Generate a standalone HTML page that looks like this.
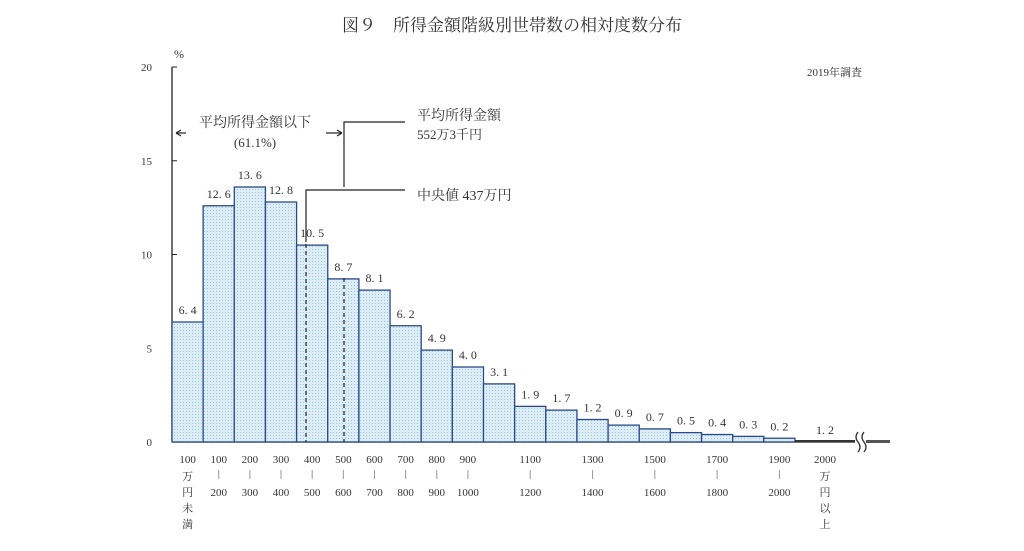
<!DOCTYPE html>
<html><head><meta charset="utf-8"><style>
body{margin:0;background:#fff;}
svg text{font-family:"Liberation Serif","Noto Serif CJK SC",serif;fill:#333;}
</style></head><body>
<svg id="chart" width="1024" height="546" viewBox="0 0 1024 546" xmlns="http://www.w3.org/2000/svg">
<defs>
<pattern id="dots" width="3" height="3" patternUnits="userSpaceOnUse"><rect width="3" height="3" fill="#dcedf6"/><rect width="1" height="1" fill="#9fc4da"/></pattern>
</defs>
<text x="512" y="31" font-size="17" text-anchor="middle">図９　所得金額階級別世帯数の相対度数分布</text>
<text x="862" y="76" font-size="11" text-anchor="end">2019年調査</text>
<text x="179" y="58" font-size="12" text-anchor="middle">%</text>
<g id="yaxis"></g>
<g id="bars"></g>
<g id="xlabels"></g>
<g stroke="#222" stroke-width="1.2" fill="none">
<polyline points="344,187 344,122 405,122"/>
<line x1="344" y1="278" x2="344" y2="442" stroke-dasharray="4,3"/>
<polyline points="306,242 306,190 405,190"/>
<line x1="306" y1="244" x2="306" y2="442" stroke-dasharray="4,3"/>
<line x1="176" y1="133" x2="186" y2="133"/><path d="M176,133 l5,-3 M176,133 l5,3"/>
<line x1="326" y1="133" x2="341" y2="133"/><path d="M342,133 l-5,-3 M342,133 l-5,3"/>
</g>
<text x="255" y="127" font-size="14" text-anchor="middle">平均所得金額以下</text>
<text x="255" y="147" font-size="13" text-anchor="middle">(61.1%)</text>
<text x="417" y="120" font-size="14">平均所得金額</text>
<text x="417" y="139" font-size="13">552万3千円</text>
<text x="417" y="200" font-size="14">中央値 437万円</text>
</svg>
<script>
const categories=["100万円未満","100-200","200-300","300-400","400-500","500-600","600-700","700-800","800-900","900-1000","1000-1100","1100-1200","1200-1300","1300-1400","1400-1500","1500-1600","1600-1700","1700-1800","1800-1900","1900-2000","2000万円以上"];
const values=[6.4,12.6,13.6,12.8,10.5,8.7,8.1,6.2,4.9,4.0,3.1,1.9,1.7,1.2,0.9,0.7,0.5,0.4,0.3,0.2,1.2];
const valueLabels=["6.4","12.6","13.6","12.8","10.5","8.7","8.1","6.2","4.9","4.0","3.1","1.9","1.7","1.2","0.9","0.7","0.5","0.4","0.3","0.2","1.2"];
const yTicks=[0,5,10,15,20];
const xTop=["100","100","200","300","400","500","600","700","800","900","","1100","","1300","","1500","","1700","","1900","2000"];
const xBottom=["","200","300","400","500","600","700","800","900","1000","","1200","","1400","","1600","","1800","","2000",""];
const NS="http://www.w3.org/2000/svg";
const X0=172,BW=31.15,Y0=442,PX=18.75;
const y=v=>Y0-v*PX, x=i=>X0+i*BW;
function mk(t,a,p){const e=document.createElementNS(NS,t);for(const k in a)e.setAttribute(k,a[k]);p.appendChild(e);return e;}
const ya=document.getElementById('yaxis');
mk('line',{x1:X0,y1:Y0,x2:X0,y2:y(20),stroke:'#222','stroke-width':1.3},ya);
mk('line',{x1:X0,y1:Y0,x2:855,y2:Y0,stroke:'#222','stroke-width':1.3},ya);
yTicks.forEach(v=>{
 const l=mk('line',{x1:X0,y1:y(v),x2:X0+5,y2:y(v),stroke:'#222'},ya);
 
 
 const t=mk('text',{x:X0-20,y:y(v)+4,'font-size':11,'text-anchor':'end'},ya);
 t.textContent=v;
 
 
});
const bg=document.getElementById('bars');
values.forEach((v,i)=>{
 let lx;
 if(i<values.length-1){
  const r=mk('rect',{x:x(i),y:y(v),width:BW,height:v*PX,fill:'url(#dots)',stroke:'#2b4a8c','stroke-width':1.3},bg);
  
  
  lx=x(i)+BW/2;
 } else {
  const r=mk('rect',{x:x(i),y:Y0-2,width:60,height:2,fill:'#333'},bg);
  
  
  lx=x(i)+30;
  const br=mk('path',{d:'M858,432 q-4,5 0,10 q4,5 0,10 M864,432 q-4,5 0,10 q4,5 0,10',stroke:'#333',fill:'none','stroke-width':1.3},bg);
  
  
  const tl=mk('rect',{x:866,y:Y0-2,width:24,height:3,fill:'#555'},bg);
  
  
 }
 const ly=(i<values.length-1?y(v):Y0)-8;
 const t=mk('text',{x:lx,y:ly,'font-size':12,'text-anchor':'middle'},bg);
 t.textContent=valueLabels[i].replace('.','. ');
 
 
});
const xl=document.getElementById('xlabels');
xTop.forEach((s,i)=>{
 if(!s)return;
 const cx=i==values.length-1?x(i)+30:x(i)+BW/2;
 const t=mk('text',{x:cx,y:463,'font-size':11,'text-anchor':'middle'},xl);
 t.textContent=s;
 
 
 const extra=(i==0)?["万","円","未","満"]:(i==values.length-1?["万","円","以","上"]:null);
 if(extra){extra.forEach((c,k)=>{const e=mk('text',{x:cx,y:480+k*16,'font-size':11,'text-anchor':'middle'},xl);e.textContent=c;});}
 else{
  const l=mk('line',{x1:cx,y1:470,x2:cx,y2:479,stroke:'#999'},xl);
  
  
  const b=mk('text',{x:cx,y:496,'font-size':11,'text-anchor':'middle'},xl);
  b.textContent=xBottom[i];
  
  
 }
});
</script>
</body></html>
